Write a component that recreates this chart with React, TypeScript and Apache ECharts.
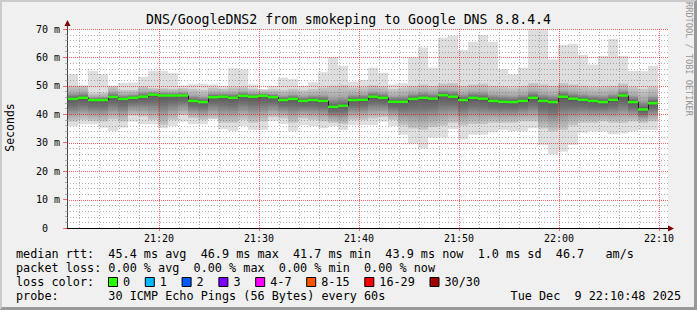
import { useEffect, useRef } from 'react';
import * as echarts from 'echarts';

// ---- data ----
// one column per 60 s sample; minutes after 21:00 where the first column starts
const startMinute = 10.9;
const stepMinutes = 1;

const medianRtt = [45.4, 45.8, 45.0, 45.0, 46.1, 45.4, 45.8, 46.2, 46.9, 46.6, 46.6, 46.6, 44.7, 44.3,
  46.0, 46.2, 45.8, 46.5, 46.2, 46.5, 46.0, 45.0, 45.4, 44.7, 45.0, 44.7, 42.6, 43.0, 45.0,
  45.1, 46.2, 45.8, 44.4, 44.4, 45.4, 45.8, 45.5, 46.7, 46.2, 45.0, 45.8, 45.5, 44.7, 44.4,
  44.3, 44.7, 45.8, 44.7, 44.3, 46.2, 45.5, 45.1, 44.7, 44.3, 45.1, 46.6, 44.3, 41.7, 43.9];
const minRtt = [35.9, 36.5, 36.5, 35.3, 34.1, 35.3, 37.4, 36.5, 36.5, 35.1, 35.9, 37.4, 36.5, 36.5,
  38.2, 34.8, 34.1, 35.9, 34.5, 34.5, 37.6, 36.6, 34.1, 36.2, 35.9, 35.1, 35.9, 34.5, 36.2,
  36.2, 36.2, 37.4, 35.9, 32.8, 29.8, 28.0, 31.8, 31.8, 34.8, 31.2, 32.8, 32.8, 33.7, 34.5,
  34.1, 34.1, 35.1, 29.2, 25.9, 26.8, 29.2, 33.5, 34.0, 34.0, 33.0, 33.3, 34.0, 34.5, 34.5];
const lowRtt = [37.4, 38.0, 37.6, 37.4, 38.2, 37.4, 39.5, 39.2, 38.0, 36.2, 38.0, 39.7, 38.6, 38.0,
  38.5, 37.0, 37.0, 38.0, 37.0, 37.5, 39.0, 38.5, 37.0, 38.5, 38.0, 37.5, 37.0, 36.5, 38.0,
  38.0, 38.5, 39.0, 38.0, 36.0, 35.0, 34.5, 35.5, 36.0, 37.0, 36.0, 36.5, 36.5, 37.0, 37.0,
  37.0, 37.5, 37.5, 35.0, 34.0, 34.5, 36.0, 37.0, 37.0, 37.5, 37.0, 37.0, 37.5, 37.0, 37.5];
const highRtt = [50.1, 50.1, 47.4, 47.6, 49.8, 48.6, 48.6, 49.8, 49.2, 49.2, 49.0, 49.2, 49.0, 48.6,
  49.4, 49.0, 49.5, 49.6, 49.0, 48.6, 48.8, 48.6, 49.0, 48.5, 49.0, 49.5, 50.0, 50.2, 49.5,
  49.6, 50.2, 49.8, 49.0, 49.5, 50.0, 50.5, 50.0, 50.8, 51.0, 50.0, 50.5, 50.8, 50.0, 49.8,
  49.5, 50.0, 51.0, 50.5, 50.0, 51.0, 50.5, 50.0, 49.6, 49.8, 50.0, 50.8, 49.6, 49.0, 49.6];
const maxRtt = [54.1, 50.1, 55.3, 54.1, 50.1, 51.0, 51.2, 53.2, 55.3, 55.3, 54.5, 50.2, 50.6, 50.6,
  50.5, 50.0, 56.2, 55.8, 50.5, 48.9, 50.0, 52.9, 52.4, 50.0, 51.3, 54.8, 60.2, 57.0, 51.4,
  52.1, 56.4, 54.6, 50.5, 50.9, 60.0, 63.5, 56.4, 66.9, 67.6, 62.6, 65.5, 67.9, 65.5, 55.9,
  54.1, 56.4, 70.0, 70.0, 59.4, 64.4, 64.7, 60.9, 57.5, 60.5, 66.5, 60.5, 55.2, 55.2, 57.0];

const xTickMinutes = [20, 30, 40, 50, 60, 70];
const xTickLabels = ['21:20', '21:30', '21:40', '21:50', '22:00', '22:10'];
const yTickValues = [0, 10, 20, 30, 40, 50, 60, 70];
const yTickLabels = ['0\u00a0\u00a0', '10 m', '20 m', '30 m', '40 m', '50 m', '60 m', '70 m'];

const titleText = 'DNS/GoogleDNS2 from smokeping to Google DNS 8.8.4.4';
const yAxisTitle = 'Seconds';
const sideText = 'RRDTOOL / TOBI OETIKER';
const legendLine1 = 'median rtt:  45.4 ms avg  46.9 ms max  41.7 ms min  43.9 ms now  1.0 ms sd  46.7   am/s';
const legendLine2 = 'packet loss: 0.00 % avg  0.00 % max  0.00 % min  0.00 % now';
const legendLine3 = 'loss color:';
const legendLine4 = 'probe:       30 ICMP Echo Pings (56 Bytes) every 60s';
const timestamp = 'Tue Dec  9 22:10:48 2025';
const lossLabels = ['0', '1', '2', '3', '4-7', '8-15', '16-29', '30/30'];
const lossColors = ['#26ff00', '#00b8ff', '#0059ff', '#7e00ff', '#ff00ff', '#ff5500', '#ff0000', '#a00000'];

// ---- styling ----
const MONO = '"DejaVu Sans Mono", monospace';
const CHAR_W = 7.1;
const LEGEND_FONT = `11.8px ${MONO}`;
const GRID_MINOR = 'rgba(120,120,120,0.6)';
const GRID_MAJOR = 'rgba(240,0,0,0.6)';

function buildOption() {
  const smokeData = medianRtt.map((m, i) => [
    startMinute + i * stepMinutes,
    startMinute + (i + 1) * stepMinutes,
    minRtt[i], lowRtt[i], m, highRtt[i], maxRtt[i],
    i > 0 ? medianRtt[i - 1] : m,
  ]);

  // grid line values; majors are drawn from the tick arrays
  const vMinor: number[] = [];
  for (let v = 12; v <= 70; v += 2) if (v % 10 !== 0) vMinor.push(v);
  const hMinor: number[] = [];
  for (let v = 2; v < 70; v += 2) if (v % 10 !== 0) hMinor.push(v);
  const hMajor = yTickValues.filter((v) => v > 0);

  const vLineItem = (stroke: string, dash: number[]) => (params: any, api: any) => {
    const cs = params.coordSys;
    const x = Math.round(api.coord([api.value(0), 35])[0]) + 0.5;
    return {
      type: 'line',
      shape: { x1: x, y1: cs.y, x2: x, y2: cs.y + cs.height },
      style: { stroke, lineWidth: 1, lineDash: dash },
    };
  };
  const hLineItem = (stroke: string, dash: number[]) => (params: any, api: any) => {
    const cs = params.coordSys;
    const y = Math.round(api.coord([40, api.value(0)])[1]) + 0.5;
    return {
      type: 'line',
      shape: { x1: cs.x, y1: y, x2: cs.x + cs.width, y2: y },
      style: { stroke, lineWidth: 1, lineDash: dash },
    };
  };

  const graphics: any[] = [];
  graphics.push({ type: 'line', shape: { x1: 67.5, y1: 29, x2: 67.5, y2: 24 }, style: { stroke: '#444', lineWidth: 1 }, z: 50 });
  graphics.push({ type: 'polygon', shape: { points: [[67.5, 20], [64.5, 26], [70.5, 26]] }, style: { fill: '#7f0000' }, z: 50 });
  graphics.push({ type: 'line', shape: { x1: 668, y1: 228.5, x2: 670, y2: 228.5 }, style: { stroke: '#000', lineWidth: 1 }, z: 50 });
  graphics.push({ type: 'polygon', shape: { points: [[674, 228.5], [668, 225.5], [668, 231.5]] }, style: { fill: '#7f0000' }, z: 50 });
  graphics.push({
    type: 'text', x: 10, y: 127.5, rotation: Math.PI / 2,
    style: { text: yAxisTitle, x: 0, y: 0, font: `11.5px ${MONO}`, fill: '#000', textAlign: 'center', textVerticalAlign: 'middle' },
  });
  graphics.push({
    type: 'text', x: 688.5, y: 59, rotation: -Math.PI / 2,
    style: { text: sideText, x: 0, y: 0, font: `8.6px ${MONO}`, fill: '#959595', textAlign: 'center', textVerticalAlign: 'middle' },
  });
  const lineY = [254, 268, 282, 296];
  [legendLine1, legendLine2, legendLine3, legendLine4].forEach((t, i) => {
    graphics.push({
      type: 'text', x: 16, y: lineY[i],
      style: { text: t, x: 0, y: 0, font: LEGEND_FONT, fill: '#000', textAlign: 'left', textVerticalAlign: 'middle' },
    });
  });
  graphics.push({
    type: 'text', x: 681, y: lineY[3],
    style: { text: timestamp, x: 0, y: 0, font: LEGEND_FONT, fill: '#000', textAlign: 'right', textVerticalAlign: 'middle' },
  });
  let bx = 108.5;
  lossLabels.forEach((lab, i) => {
    graphics.push({
      type: 'rect', shape: { x: bx, y: 277.5, width: 9, height: 9 },
      style: { fill: lossColors[i], stroke: '#000', lineWidth: 1 },
    });
    const lx = bx + 14.5;
    graphics.push({
      type: 'text', x: lx, y: lineY[2],
      style: { text: lab, x: 0, y: 0, font: LEGEND_FONT, fill: '#000', textAlign: 'left', textVerticalAlign: 'middle' },
    });
    bx = lx + lab.length * CHAR_W + 15.2;
  });

  return {
    animation: false,
    backgroundColor: '#f0f0f0',
    title: {
      text: titleText, left: 'center', top: 11, padding: 0,
      textStyle: { fontFamily: MONO, fontSize: 13.2, fontWeight: 'normal', color: '#000', lineHeight: 16 },
    },
    grid: {
      left: 67, top: 29, width: 601, height: 199,
      show: true, backgroundColor: '#ffffff', borderWidth: 0,
      containLabel: false, outerBoundsMode: 'none',
    },
    xAxis: {
      type: 'value', min: 10.8, max: 70.9,
      axisLine: { show: true, lineStyle: { color: '#000', width: 1 } },
      axisTick: { show: true, customValues: xTickMinutes, length: 3, inside: false, lineStyle: { color: 'rgba(240,0,0,0.5)' } },
      axisLabel: {
        show: true, customValues: xTickMinutes, margin: 5,
        fontFamily: MONO, fontSize: 10, color: '#000',
        formatter: (v: number) => {
          const idx = xTickMinutes.indexOf(Math.round(v));
          return idx >= 0 ? xTickLabels[idx] : '';
        },
      },
      splitLine: { show: false },
    },
    yAxis: {
      type: 'value', min: 0, max: 70, interval: 10,
      axisLine: { show: true, lineStyle: { color: '#444', width: 1 } },
      axisTick: { show: true, length: 4, lineStyle: { color: 'rgba(240,0,0,0.55)' } },
      minorTick: { show: true, splitNumber: 5, length: 2, lineStyle: { color: '#b0b0b0' } },
      axisLabel: {
        show: true, margin: 7, fontFamily: MONO, fontSize: 10, color: '#000',
        formatter: (v: number) => {
          const idx = yTickValues.indexOf(Math.round(v));
          return idx >= 0 ? yTickLabels[idx] : '';
        },
      },
      splitLine: { show: false },
    },
    series: [
      {
        type: 'custom', name: 'smoke', z: 2, data: smokeData,
        encode: { x: [0, 1], y: [2, 6] },
        renderItem: (_p: any, api: any) => {
          const xs = Math.round(api.coord([api.value(0), 0])[0]);
          const xe = Math.round(api.coord([api.value(1), 0])[0]);
          const yMin = api.coord([0, api.value(2)])[1];
          const yLo = api.coord([0, api.value(3)])[1];
          const yMed = api.coord([0, api.value(4)])[1];
          const yHi = api.coord([0, api.value(5)])[1];
          const yMax = api.coord([0, api.value(6)])[1];
          const t = Math.min(0.95, Math.max(0.05, (yMed - yHi) / (yLo - yHi)));
          const grad = new echarts.graphic.LinearGradient(0, 0, 0, 1, [
            { offset: 0, color: '#cacaca' },
            { offset: t * 0.55, color: '#a8a8a8' },
            { offset: t, color: '#5a5a5a' },
            { offset: t + (1 - t) * 0.3, color: '#707070' },
            { offset: t + (1 - t) * 0.7, color: '#a6a6a6' },
            { offset: 1, color: '#c8c8c8' },
          ]);
          return {
            type: 'group',
            children: [
              { type: 'rect', shape: { x: xs, y: yMax, width: xe - xs, height: yMin - yMax }, style: { fill: '#dedede' } },
              { type: 'rect', shape: { x: xs, y: yHi, width: xe - xs, height: yLo - yHi }, style: { fill: grad } },
            ],
          };
        },
      },
      {
        type: 'custom', name: 'vgrid minor', z: 3, silent: true,
        data: vMinor.map((v) => [v, 35]), encode: { x: 0, y: 1 },
        renderItem: vLineItem(GRID_MINOR, [1, 2]),
      },
      {
        type: 'custom', name: 'hgrid minor', z: 3, silent: true,
        data: hMinor.map((v) => [40, v]).map((p) => [p[1], p[0]]), encode: { y: 0, x: 1 },
        renderItem: hLineItem(GRID_MINOR, [1, 2]),
      },
      {
        type: 'custom', name: 'vgrid major', z: 3.5, silent: true,
        data: xTickMinutes.map((v) => [v, 35]), encode: { x: 0, y: 1 },
        renderItem: vLineItem(GRID_MAJOR, [1, 1]),
      },
      {
        type: 'custom', name: 'hgrid major', z: 3.5, silent: true,
        data: hMajor.map((v) => [v, 40]), encode: { y: 0, x: 1 },
        renderItem: hLineItem(GRID_MAJOR, [1, 1]),
      },
      {
        type: 'custom', name: 'median', z: 4, data: smokeData,
        encode: { x: [0, 1], y: 4 },
        renderItem: (_p: any, api: any) => {
          const xs = Math.round(api.coord([api.value(0), 0])[0]);
          const xe = Math.round(api.coord([api.value(1), 0])[0]);
          const yMed = api.coord([0, api.value(4)])[1];
          const yPrev = api.coord([0, api.value(7)])[1];
          return {
            type: 'group',
            children: [
              { type: 'line', shape: { x1: xs + 0.5, y1: yPrev, x2: xs + 0.5, y2: yMed }, style: { stroke: '#202020', lineWidth: 1 } },
              { type: 'rect', shape: { x: xs, y: yMed - 1.2, width: xe - xs, height: 2.4 }, style: { fill: lossColors[0] } },
            ],
          };
        },
      },
    ],
    graphic: graphics,
  };
}

export default function App() {
  const ref = useRef<HTMLDivElement>(null);
  useEffect(() => {
    const chart = echarts.init(ref.current!, null, { renderer: 'svg', width: 697, height: 310 });
    chart.setOption(buildOption() as any);
    return () => chart.dispose();
  }, []);
  return (
    <div style={{ position: 'fixed', left: 0, top: 0, width: 697, height: 310 }}>
      <div ref={ref} style={{ width: 697, height: 310 }} />
      <div
        style={{
          position: 'absolute', left: 0, top: 0, width: 697, height: 310, boxSizing: 'border-box',
          borderTop: '2px solid #cbcbcb', borderLeft: '2px solid #cbcbcb',
          borderRight: '3px solid #999999', borderBottom: '3px solid #999999', pointerEvents: 'none',
        }}
      />
    </div>
  );
}
